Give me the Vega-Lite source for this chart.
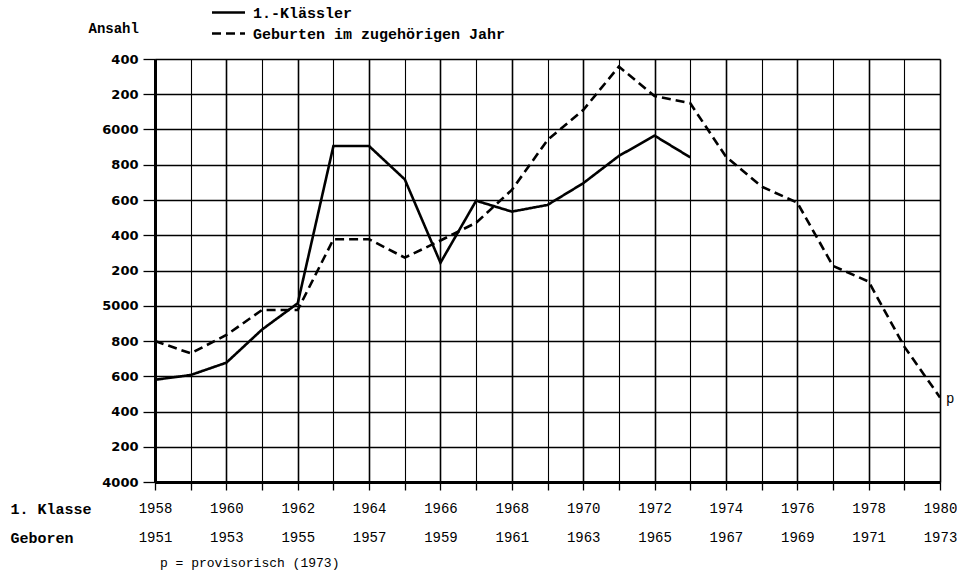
{
  "$schema": "https://vega.github.io/schema/vega-lite/v6.json",
  "autosize": {"type": "none"},
  "padding": {"left": 155, "top": 59, "right": 17, "bottom": 90},
  "width": 785,
  "height": 423,
  "background": "white",
  "title": {
    "text": "p = provisorisch (1973)",
    "orient": "bottom",
    "anchor": "start",
    "offset": 12,
    "dx": 150,
    "font": "Liberation Mono",
    "fontSize": 13,
    "fontWeight": "normal",
    "color": "black"
  },
  "data": {
    "values": [
      {"year": 1958, "series": "1.-Klässler", "value": 4580},
      {"year": 1959, "series": "1.-Klässler", "value": 4607},
      {"year": 1960, "series": "1.-Klässler", "value": 4677},
      {"year": 1961, "series": "1.-Klässler", "value": 4865},
      {"year": 1962, "series": "1.-Klässler", "value": 5014},
      {"year": 1963, "series": "1.-Klässler", "value": 5906},
      {"year": 1964, "series": "1.-Klässler", "value": 5906},
      {"year": 1965, "series": "1.-Klässler", "value": 5717},
      {"year": 1966, "series": "1.-Klässler", "value": 5244},
      {"year": 1967, "series": "1.-Klässler", "value": 5596},
      {"year": 1968, "series": "1.-Klässler", "value": 5534},
      {"year": 1969, "series": "1.-Klässler", "value": 5572},
      {"year": 1970, "series": "1.-Klässler", "value": 5695},
      {"year": 1971, "series": "1.-Klässler", "value": 5850},
      {"year": 1972, "series": "1.-Klässler", "value": 5965},
      {"year": 1973, "series": "1.-Klässler", "value": 5842},
      {"year": 1958, "series": "Geburten im zugehörigen Jahr", "value": 4800},
      {"year": 1959, "series": "Geburten im zugehörigen Jahr", "value": 4730},
      {"year": 1960, "series": "Geburten im zugehörigen Jahr", "value": 4834},
      {"year": 1961, "series": "Geburten im zugehörigen Jahr", "value": 4976},
      {"year": 1962, "series": "Geburten im zugehörigen Jahr", "value": 4976},
      {"year": 1963, "series": "Geburten im zugehörigen Jahr", "value": 5377},
      {"year": 1964, "series": "Geburten im zugehörigen Jahr", "value": 5377},
      {"year": 1965, "series": "Geburten im zugehörigen Jahr", "value": 5273},
      {"year": 1966, "series": "Geburten im zugehörigen Jahr", "value": 5370},
      {"year": 1967, "series": "Geburten im zugehörigen Jahr", "value": 5471},
      {"year": 1968, "series": "Geburten im zugehörigen Jahr", "value": 5657},
      {"year": 1969, "series": "Geburten im zugehörigen Jahr", "value": 5940},
      {"year": 1970, "series": "Geburten im zugehörigen Jahr", "value": 6110},
      {"year": 1971, "series": "Geburten im zugehörigen Jahr", "value": 6357},
      {"year": 1972, "series": "Geburten im zugehörigen Jahr", "value": 6190},
      {"year": 1973, "series": "Geburten im zugehörigen Jahr", "value": 6149},
      {"year": 1974, "series": "Geburten im zugehörigen Jahr", "value": 5846},
      {"year": 1975, "series": "Geburten im zugehörigen Jahr", "value": 5676},
      {"year": 1976, "series": "Geburten im zugehörigen Jahr", "value": 5585},
      {"year": 1977, "series": "Geburten im zugehörigen Jahr", "value": 5226},
      {"year": 1978, "series": "Geburten im zugehörigen Jahr", "value": 5137},
      {"year": 1979, "series": "Geburten im zugehörigen Jahr", "value": 4768},
      {"year": 1980, "series": "Geburten im zugehörigen Jahr", "value": 4480, "note": "p"}
    ]
  },
  "encoding": {
    "x": {
      "field": "year",
      "type": "quantitative",
      "scale": {"domain": [1958, 1980], "nice": false, "zero": false},
      "axis": {
        "values": [1958,1959,1960,1961,1962,1963,1964,1965,1966,1967,1968,1969,1970,1971,1972,1973,1974,1975,1976,1977,1978,1979,1980],
        "labelExpr": "datum.value % 2 == 0 ? [format(datum.value, 'd'), format(datum.value - 7, 'd')] : ''",
        "labelFont": "Liberation Mono",
        "labelFontSize": 14,
        "labelColor": "black",
        "labelLineHeight": 29,
        "labelBaseline": "top",
        "labelPadding": 11,
        "labelFlush": false,
        "labelOverlap": false,
        "labelBound": false,
        "tickSize": 8,
        "tickColor": "black",
        "tickWidth": 1.3,
        "domainColor": "black",
        "domainWidth": 3,
        "grid": true,
        "gridColor": "black",
        "gridOpacity": 1,
        "gridWidth": {"condition": {"test": "datum.value % 2 == 0", "value": 1.6}, "value": 1.1},
        "title": ["1. Klasse", "Geboren"],
        "titleX": -145,
        "titleY": 19,
        "titleAlign": "left",
        "titleBaseline": "top",
        "titleAngle": 0,
        "titleFont": "Liberation Mono",
        "titleFontSize": 15,
        "titleFontWeight": "bold",
        "titleLineHeight": 29,
        "titleColor": "black"
      }
    },
    "y": {
      "field": "value",
      "type": "quantitative",
      "scale": {"domain": [4000, 6400], "nice": false, "zero": false},
      "axis": {
        "values": [4000,4200,4400,4600,4800,5000,5200,5400,5600,5800,6000,6200,6400],
        "labelExpr": "datum.value % 1000 == 0 ? format(datum.value, 'd') : format(datum.value % 1000, 'd')",
        "labelFont": "DejaVu Sans",
        "labelFontSize": 13,
        "labelFontWeight": "bold",
        "labelColor": "black",
        "labelPadding": 5,
        "labelFlush": false,
        "labelOverlap": false,
        "tickSize": 12,
        "tickColor": "black",
        "tickWidth": 1.3,
        "domainColor": "black",
        "domainWidth": 3,
        "grid": true,
        "gridColor": "black",
        "gridOpacity": 1,
        "gridWidth": 1.3,
        "title": "Ansahl",
        "titleX": -67,
        "titleY": -31,
        "titleAlign": "left",
        "titleBaseline": "middle",
        "titleAngle": 0,
        "titleFont": "Liberation Mono",
        "titleFontSize": 14,
        "titleFontWeight": "bold",
        "titleColor": "black"
      }
    }
  },
  "layer": [
    {
      "mark": {"type": "line", "color": "black", "strokeWidth": 2.6},
      "encoding": {
        "strokeDash": {
          "field": "series",
          "type": "nominal",
          "scale": {"domain": ["1.-Klässler", "Geburten im zugehörigen Jahr"], "range": [[1, 0], [9, 5]]},
          "legend": {
            "title": null,
            "orient": "none",
            "legendX": 61,
            "legendY": -59,
            "direction": "vertical",
            "symbolType": "M-1.5,0H1.5",
            "symbolSize": 484,
            "symbolStrokeWidth": 2.5,
            "symbolStrokeColor": "black",
            "labelFont": "Liberation Mono",
            "labelFontSize": 15,
            "labelFontWeight": "bold",
            "labelColor": "black",
            "labelLimit": 0,
            "labelOffset": 12,
            "rowPadding": 0,
            "padding": 0
          }
        }
      }
    },
    {
      "transform": [{"filter": "datum.note != null"}],
      "mark": {"type": "text", "align": "left", "baseline": "middle", "dx": 6, "dy": 2, "font": "Liberation Mono", "fontSize": 14, "fill": "black"},
      "encoding": {"text": {"field": "note"}}
    }
  ]
}
